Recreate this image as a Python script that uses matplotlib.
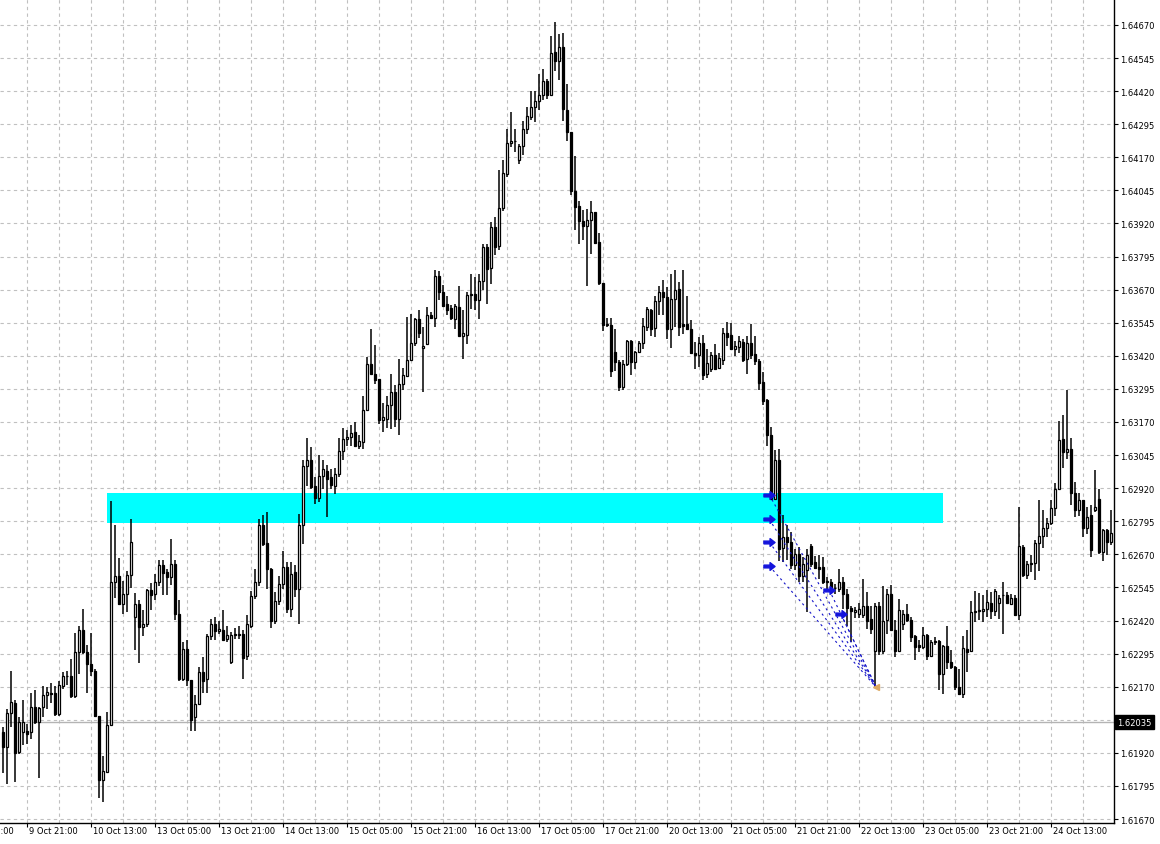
import numpy as np
import matplotlib.pyplot as plt
from matplotlib.path import Path
from matplotlib.transforms import blended_transform_factory

# hourly OHLC, left to right
opens = [
    1.61998, 1.61941, 1.62070, 1.62108, 1.61923, 1.61998, 1.62001, 1.61998, 1.62093, 1.62036,
    1.62093, 1.62137, 1.62147, 1.62146, 1.62065, 1.62174, 1.62210, 1.62209, 1.62133, 1.62301,
    1.62385, 1.62301, 1.62254, 1.62231, 1.62061, 1.61818, 1.61847, 1.62027, 1.62565, 1.62589,
    1.62481, 1.62521, 1.62592, 1.62435, 1.62483, 1.62395, 1.62408, 1.62536, 1.62521, 1.62565,
    1.62628, 1.62602, 1.62584, 1.62634, 1.62443, 1.62200, 1.62313, 1.62196, 1.62055, 1.62103,
    1.62225, 1.62200, 1.62360, 1.62408, 1.62382, 1.62385, 1.62350, 1.62265, 1.62370, 1.62364,
    1.62370, 1.62286, 1.62401, 1.62512, 1.62567, 1.62779, 1.62714, 1.62615, 1.62420, 1.62495,
    1.62559, 1.62622, 1.62462, 1.62603, 1.62539, 1.62782, 1.63003, 1.63025, 1.62928, 1.62882,
    1.62966, 1.62986, 1.62962, 1.62930, 1.62974, 1.63059, 1.63104, 1.63113, 1.63132, 1.63079,
    1.63094, 1.63217, 1.63390, 1.63352, 1.63331, 1.63176, 1.63182, 1.63233, 1.63283, 1.63182,
    1.63315, 1.63344, 1.63406, 1.63469, 1.63558, 1.63449, 1.63466, 1.63575, 1.63563, 1.63721,
    1.63661, 1.63617, 1.63602, 1.63560, 1.63604, 1.63493, 1.63497, 1.63648, 1.63652, 1.63629,
    1.63701, 1.63831, 1.63753, 1.63907, 1.63834, 1.63978, 1.64106, 1.64224, 1.64232, 1.64159,
    1.64212, 1.64278, 1.64322, 1.64360, 1.64383, 1.64404, 1.64458, 1.64404, 1.64568, 1.64534,
    1.64587, 1.64350, 1.64266, 1.64043, 1.63985, 1.63929, 1.63910, 1.63932, 1.63963, 1.63850,
    1.63695, 1.63537, 1.63535, 1.63434, 1.63396, 1.63304, 1.63390, 1.63476, 1.63396, 1.63434,
    1.63468, 1.63529, 1.63594, 1.63525, 1.63627, 1.63661, 1.63642, 1.63520, 1.63636, 1.63674,
    1.63541, 1.63541, 1.63520, 1.63432, 1.63422, 1.63470, 1.63352, 1.63371, 1.63422, 1.63374,
    1.63403, 1.63507, 1.63500, 1.63447, 1.63453, 1.63472, 1.63409, 1.63470, 1.63428, 1.63399,
    1.63321, 1.63252, 1.63119, 1.62880, 1.63025, 1.62693, 1.62735, 1.62718, 1.62628, 1.62672,
    1.62587, 1.62609, 1.62701, 1.62640, 1.62621, 1.62621, 1.62565, 1.62567, 1.62542, 1.62539,
    1.62567, 1.62521, 1.62466, 1.62451, 1.62445, 1.62439, 1.62476, 1.62426, 1.62306, 1.62476,
    1.62306, 1.62421, 1.62521, 1.62383, 1.62303, 1.62408, 1.62446, 1.62421, 1.62361, 1.62326,
    1.62320, 1.62364, 1.62286, 1.62341, 1.62341, 1.62219, 1.62323, 1.62263, 1.62244, 1.62169,
    1.62143, 1.62313, 1.62303, 1.62452, 1.62455, 1.62455, 1.62462, 1.62487, 1.62455, 1.62487,
    1.62515, 1.62518, 1.62484, 1.62505, 1.62439, 1.62698, 1.62591, 1.62633, 1.62638, 1.62714,
    1.62739, 1.62770, 1.62790, 1.62845, 1.62918, 1.63105, 1.63057, 1.63067, 1.62900, 1.62836,
    1.62874, 1.62770, 1.62817, 1.62836, 1.62880, 1.62679, 1.62761, 1.62717,
]
highs = [
    1.62017, 1.62086, 1.62231, 1.62118, 1.62055, 1.62118, 1.62030, 1.62146, 1.62158, 1.62093,
    1.62171, 1.62169, 1.62183, 1.62171, 1.62193, 1.62225, 1.62231, 1.62275, 1.62372, 1.62401,
    1.62464, 1.62326, 1.62372, 1.62238, 1.62061, 1.61910, 1.62074, 1.62871, 1.62782, 1.62657,
    1.62569, 1.62607, 1.62804, 1.62524, 1.62496, 1.62458, 1.62540, 1.62561, 1.62594, 1.62650,
    1.62647, 1.62615, 1.62729, 1.62647, 1.62498, 1.62338, 1.62345, 1.62196, 1.62137, 1.62244,
    1.62282, 1.62370, 1.62427, 1.62435, 1.62418, 1.62461, 1.62400, 1.62375, 1.62390, 1.62400,
    1.62385, 1.62439, 1.62533, 1.62615, 1.62804, 1.62817, 1.62829, 1.62620, 1.62527, 1.62590,
    1.62681, 1.62641, 1.62641, 1.62628, 1.62823, 1.63025, 1.63109, 1.63075, 1.62962, 1.63044,
    1.63025, 1.63006, 1.62993, 1.62996, 1.63109, 1.63147, 1.63138, 1.63157, 1.63170, 1.63119,
    1.63270, 1.63415, 1.63522, 1.63462, 1.63331, 1.63243, 1.63270, 1.63352, 1.63308, 1.63409,
    1.63374, 1.63567, 1.63579, 1.63563, 1.63592, 1.63529, 1.63604, 1.63585, 1.63743, 1.63739,
    1.63686, 1.63645, 1.63611, 1.63617, 1.63682, 1.63594, 1.63661, 1.63730, 1.63718, 1.63730,
    1.63844, 1.63844, 1.63926, 1.63944, 1.64121, 1.64161, 1.64275, 1.64341, 1.64275, 1.64219,
    1.64307, 1.64360, 1.64421, 1.64421, 1.64484, 1.64505, 1.64467, 1.64627, 1.64682, 1.64635,
    1.64640, 1.64448, 1.64266, 1.64174, 1.64005, 1.63970, 1.63976, 1.64005, 1.63963, 1.63884,
    1.63695, 1.63564, 1.63564, 1.63522, 1.63403, 1.63403, 1.63481, 1.63481, 1.63440, 1.63476,
    1.63564, 1.63604, 1.63598, 1.63645, 1.63682, 1.63706, 1.63680, 1.63730, 1.63743, 1.63699,
    1.63743, 1.63646, 1.63554, 1.63472, 1.63491, 1.63497, 1.63447, 1.63434, 1.63466, 1.63432,
    1.63525, 1.63548, 1.63545, 1.63475, 1.63495, 1.63485, 1.63495, 1.63541, 1.63495, 1.63409,
    1.63359, 1.63258, 1.63151, 1.63063, 1.63069, 1.62817, 1.62779, 1.62756, 1.62691, 1.62697,
    1.62659, 1.62691, 1.62709, 1.62663, 1.62668, 1.62659, 1.62583, 1.62577, 1.62558, 1.62615,
    1.62583, 1.62539, 1.62476, 1.62470, 1.62485, 1.62577, 1.62527, 1.62476, 1.62485, 1.62490,
    1.62552, 1.62540, 1.62553, 1.62421, 1.62502, 1.62458, 1.62484, 1.62433, 1.62364, 1.62345,
    1.62395, 1.62370, 1.62345, 1.62358, 1.62345, 1.62329, 1.62399, 1.62307, 1.62250, 1.62238,
    1.62361, 1.62383, 1.62492, 1.62530, 1.62525, 1.62515, 1.62534, 1.62528, 1.62540, 1.62515,
    1.62565, 1.62528, 1.62521, 1.62515, 1.62849, 1.62704, 1.62644, 1.62666, 1.62723, 1.62874,
    1.62836, 1.62807, 1.62874, 1.62941, 1.63173, 1.63195, 1.63290, 1.63110, 1.62943, 1.62900,
    1.62874, 1.62849, 1.62855, 1.62988, 1.62918, 1.62767, 1.62767, 1.62836,
]
lows = [
    1.61843, 1.61803, 1.62017, 1.61809, 1.61916, 1.61948, 1.61954, 1.61973, 1.62030, 1.61826,
    1.62057, 1.62086, 1.62108, 1.62061, 1.62061, 1.62162, 1.62178, 1.62128, 1.62128, 1.62219,
    1.62294, 1.62146, 1.62209, 1.62057, 1.61750, 1.61733, 1.61843, 1.62023, 1.62506, 1.62477,
    1.62445, 1.62452, 1.62544, 1.62309, 1.62259, 1.62363, 1.62395, 1.62458, 1.62496, 1.62549,
    1.62518, 1.62518, 1.62553, 1.62423, 1.62191, 1.62191, 1.62171, 1.62002, 1.62004, 1.62099,
    1.62146, 1.62146, 1.62347, 1.62347, 1.62370, 1.62345, 1.62339, 1.62257, 1.62350, 1.62350,
    1.62200, 1.62270, 1.62390, 1.62500, 1.62550, 1.62700, 1.62539, 1.62390, 1.62405, 1.62480,
    1.62540, 1.62450, 1.62433, 1.62510, 1.62407, 1.62710, 1.62930, 1.62918, 1.62861, 1.62867,
    1.62918, 1.62811, 1.62918, 1.62899, 1.62962, 1.63025, 1.63081, 1.63081, 1.63075, 1.63069,
    1.63069, 1.63214, 1.63350, 1.63315, 1.63163, 1.63132, 1.63147, 1.63144, 1.63151, 1.63119,
    1.63289, 1.63340, 1.63399, 1.63457, 1.63487, 1.63285, 1.63459, 1.63558, 1.63529, 1.63629,
    1.63604, 1.63573, 1.63556, 1.63522, 1.63493, 1.63409, 1.63466, 1.63598, 1.63592, 1.63560,
    1.63667, 1.63614, 1.63692, 1.63800, 1.63821, 1.63967, 1.64096, 1.64209, 1.64190, 1.64146,
    1.64178, 1.64259, 1.64312, 1.64303, 1.64348, 1.64388, 1.64392, 1.64401, 1.64496, 1.64461,
    1.64307, 1.64232, 1.64026, 1.63894, 1.63844, 1.63856, 1.63682, 1.63806, 1.63844, 1.63686,
    1.63514, 1.63529, 1.63340, 1.63362, 1.63287, 1.63289, 1.63380, 1.63346, 1.63371, 1.63430,
    1.63447, 1.63514, 1.63493, 1.63491, 1.63573, 1.63573, 1.63485, 1.63450, 1.63529, 1.63495,
    1.63503, 1.63516, 1.63428, 1.63371, 1.63377, 1.63327, 1.63336, 1.63359, 1.63365, 1.63371,
    1.63386, 1.63457, 1.63441, 1.63419, 1.63432, 1.63396, 1.63352, 1.63409, 1.63386, 1.63289,
    1.63235, 1.63079, 1.62874, 1.62874, 1.62646, 1.62640, 1.62647, 1.62615, 1.62609, 1.62567,
    1.62565, 1.62451, 1.62621, 1.62615, 1.62577, 1.62558, 1.62539, 1.62521, 1.62521, 1.62529,
    1.62464, 1.62401, 1.62338, 1.62430, 1.62430, 1.62430, 1.62388, 1.62370, 1.62166, 1.62290,
    1.62295, 1.62370, 1.62383, 1.62282, 1.62301, 1.62386, 1.62414, 1.62339, 1.62269, 1.62301,
    1.62313, 1.62269, 1.62282, 1.62326, 1.62156, 1.62143, 1.62238, 1.62238, 1.62156, 1.62140,
    1.62127, 1.62225, 1.62301, 1.62414, 1.62421, 1.62414, 1.62433, 1.62427, 1.62437, 1.62424,
    1.62370, 1.62484, 1.62480, 1.62437, 1.62421, 1.62584, 1.62575, 1.62603, 1.62572, 1.62606,
    1.62694, 1.62735, 1.62780, 1.62815, 1.62912, 1.62996, 1.63032, 1.62855, 1.62811, 1.62815,
    1.62735, 1.62748, 1.62660, 1.62830, 1.62673, 1.62644, 1.62666, 1.62706,
]
closes = [
    1.61941, 1.62070, 1.62112, 1.61919, 1.62038, 1.62038, 1.61992, 1.62093, 1.62036, 1.62090,
    1.62137, 1.62149, 1.62144, 1.62065, 1.62178, 1.62209, 1.62211, 1.62133, 1.62301, 1.62385,
    1.62301, 1.62254, 1.62229, 1.62061, 1.61818, 1.61851, 1.62027, 1.62565, 1.62589, 1.62481,
    1.62521, 1.62592, 1.62716, 1.62483, 1.62395, 1.62408, 1.62536, 1.62518, 1.62565, 1.62628,
    1.62599, 1.62584, 1.62634, 1.62443, 1.62200, 1.62313, 1.62196, 1.62045, 1.62103, 1.62225,
    1.62193, 1.62363, 1.62408, 1.62382, 1.62387, 1.62347, 1.62366, 1.62364, 1.62364, 1.62370,
    1.62279, 1.62405, 1.62512, 1.62567, 1.62779, 1.62710, 1.62615, 1.62420, 1.62495, 1.62559,
    1.62622, 1.62462, 1.62596, 1.62539, 1.62782, 1.63003, 1.63025, 1.62924, 1.62882, 1.62966,
    1.62991, 1.62953, 1.62933, 1.62974, 1.63059, 1.63107, 1.63113, 1.63129, 1.63079, 1.63097,
    1.63217, 1.63390, 1.63352, 1.63327, 1.63176, 1.63189, 1.63233, 1.63283, 1.63182, 1.63315,
    1.63349, 1.63406, 1.63469, 1.63560, 1.63507, 1.63457, 1.63573, 1.63563, 1.63721, 1.63661,
    1.63610, 1.63594, 1.63564, 1.63607, 1.63493, 1.63506, 1.63648, 1.63652, 1.63632, 1.63701,
    1.63831, 1.63749, 1.63907, 1.63831, 1.63978, 1.64111, 1.64224, 1.64232, 1.64231, 1.64213,
    1.64278, 1.64326, 1.64360, 1.64383, 1.64404, 1.64458, 1.64404, 1.64564, 1.64534, 1.64587,
    1.64351, 1.64266, 1.64043, 1.63982, 1.63929, 1.63910, 1.63932, 1.63963, 1.63846, 1.63695,
    1.63535, 1.63537, 1.63362, 1.63396, 1.63304, 1.63390, 1.63476, 1.63396, 1.63434, 1.63468,
    1.63531, 1.63598, 1.63522, 1.63627, 1.63661, 1.63642, 1.63520, 1.63636, 1.63667, 1.63529,
    1.63532, 1.63520, 1.63431, 1.63422, 1.63470, 1.63346, 1.63394, 1.63422, 1.63371, 1.63412,
    1.63507, 1.63490, 1.63444, 1.63457, 1.63475, 1.63406, 1.63470, 1.63424, 1.63399, 1.63318,
    1.63248, 1.63119, 1.62880, 1.63025, 1.62691, 1.62735, 1.62716, 1.62628, 1.62672, 1.62587,
    1.62634, 1.62668, 1.62634, 1.62617, 1.62615, 1.62565, 1.62571, 1.62542, 1.62541, 1.62567,
    1.62521, 1.62466, 1.62457, 1.62461, 1.62464, 1.62476, 1.62420, 1.62388, 1.62476, 1.62303,
    1.62420, 1.62521, 1.62383, 1.62303, 1.62461, 1.62446, 1.62421, 1.62358, 1.62320, 1.62320,
    1.62364, 1.62286, 1.62339, 1.62339, 1.62219, 1.62323, 1.62263, 1.62244, 1.62169, 1.62143,
    1.62316, 1.62301, 1.62452, 1.62455, 1.62458, 1.62462, 1.62490, 1.62455, 1.62530, 1.62505,
    1.62518, 1.62487, 1.62505, 1.62439, 1.62701, 1.62591, 1.62635, 1.62638, 1.62714, 1.62739,
    1.62770, 1.62790, 1.62845, 1.62918, 1.63101, 1.63057, 1.63067, 1.62900, 1.62836, 1.62874,
    1.62770, 1.62811, 1.62685, 1.62849, 1.62679, 1.62761, 1.62717, 1.62752,
]

# time axis labels (one every 16 bars, first one at bar -10)
time_labels = ['9 Oct 05:00', '9 Oct 21:00', '10 Oct 13:00', '13 Oct 05:00',
               '13 Oct 21:00', '14 Oct 13:00', '15 Oct 05:00', '15 Oct 21:00',
               '16 Oct 13:00', '17 Oct 05:00', '17 Oct 21:00', '20 Oct 13:00',
               '21 Oct 05:00', '21 Oct 21:00', '22 Oct 13:00', '23 Oct 05:00',
               '23 Oct 21:00', '24 Oct 13:00']
first_label_bar = -10
label_step = 16

price_ticks = [1.61670, 1.61795, 1.61920, 1.62045, 1.62170, 1.62295, 1.62420,
               1.62545, 1.62670, 1.62795, 1.62920, 1.63045, 1.63170, 1.63295,
               1.63420, 1.63545, 1.63670, 1.63795, 1.63920, 1.64045, 1.64170,
               1.64295, 1.64420, 1.64545, 1.64670]

# support zone (rectangle object)
zone_start, zone_end = 25.85, 234.85
zone_low, zone_high = 1.62787, 1.62901

last_price = 1.62035

# trades: entries (blue) joined to the close point (orange)
entry_bars = [191.5, 191.5, 191.5, 191.5, 206.5, 209.4]
entry_prices = [1.62895, 1.62802, 1.62716, 1.62626, 1.62535, 1.62444]
exit_bar = 218.25
exit_price = 1.62167

opens = np.array(opens)
closes = np.array(closes)
highs = np.maximum(np.array(highs), np.maximum(opens, closes))
lows = np.minimum(np.array(lows), np.minimum(opens, closes))
bars = np.arange(len(opens))

fig = plt.figure(figsize=(11.6, 8.45), dpi=100)
W, H = 1160, 845
ax = fig.add_axes([0, 21 / H, 1113.5 / W, 824 / H])
ax.set_xlim(-0.825, 277.55)
ax.set_ylim(1.61655, 1.64768)

grid_col = '#c0c0c0'
for p in price_ticks:
    ax.axhline(p, color=grid_col, lw=0.8, ls=(0, (3, 3)), zorder=0)
for b in range(first_label_bar + 8, len(opens), 8):
    ax.axvline(b, color=grid_col, lw=0.8, ls=(0, (3, 3)), zorder=0)

ax.axhline(last_price, color='#b4b4b4', lw=1.0, zorder=1)

ax.fill_between([zone_start, zone_end], zone_low, zone_high,
                color='#00ffff', lw=0, zorder=1)

# candles
ax.vlines(bars, lows, highs, color='black', lw=1.1, zorder=3)
up = closes >= opens
body = np.abs(closes - opens)
body = np.maximum(body, 0.000015)
ax.bar(bars[up], body[up], bottom=opens[up], width=0.55,
       color='white', edgecolor='black', linewidth=0.9, zorder=4)
ax.bar(bars[~up], body[~up], bottom=closes[~up], width=0.55,
       color='black', edgecolor='black', linewidth=0.9, zorder=4)

# trade markers
arrow = Path([(-1, -0.25), (0.1, -0.25), (0.1, -0.7), (1, 0), (0.1, 0.7),
              (0.1, 0.25), (-1, 0.25), (-1, -0.25)],
             [Path.MOVETO] + [Path.LINETO] * 6 + [Path.CLOSEPOLY])
for eb, ep in zip(entry_bars, entry_prices):
    ax.plot([eb, exit_bar], [ep, exit_price], color='#1414c8', lw=0.8,
            ls=(0, (2, 3)), zorder=5)
ax.plot(entry_bars, entry_prices, ls='none', marker=arrow, ms=8,
        color='#1414dc', zorder=6)
ax.plot([exit_bar], [exit_price], ls='none', marker='<', ms=5,
        color='#dcaa64', zorder=6)

# axes frame
for s in ['top', 'left']:
    ax.spines[s].set_visible(False)
ax.spines['right'].set_linewidth(1.0)
ax.spines['bottom'].set_linewidth(1.0)

ax.yaxis.tick_right()
ax.set_yticks(price_ticks)
ax.set_yticklabels(['%.5f' % p for p in price_ticks])
ax.tick_params(axis='y', direction='out', length=3, width=0.8, pad=2,
               labelsize=6)

label_bars = [first_label_bar + label_step * k for k in range(len(time_labels))]
ax.set_xticks([b for b in label_bars if b >= 0])
ax.set_xticklabels([])
ax.tick_params(axis='x', direction='out', length=3, width=0.8)
for b, lab in zip(label_bars, time_labels):
    ax.annotate(lab, xy=(b, 0), xycoords=('data', 'axes fraction'),
                xytext=(1, -2.5), textcoords='offset points',
                ha='left', va='top', fontsize=6, annotation_clip=False)

# current price tag
tr = blended_transform_factory(ax.transAxes, ax.transData)
ax.text(1.0 + 4 / 1113.5, last_price, '1.62035', transform=tr, fontsize=6,
        color='white', ha='left', va='center', zorder=10,
        bbox=dict(boxstyle='square,pad=0.3', fc='black', ec='black'),
        clip_on=False)

fig.savefig('out.png', dpi=100, facecolor='white')
